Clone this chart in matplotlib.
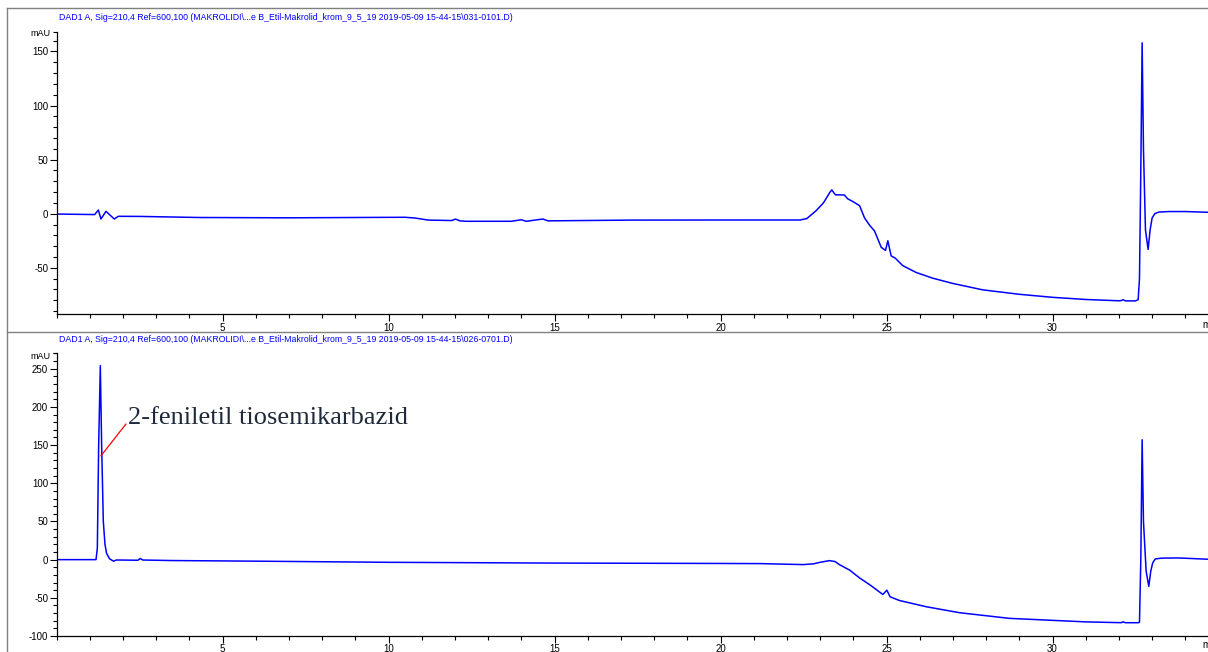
import matplotlib
matplotlib.use("Agg")
import matplotlib.pyplot as plt
from matplotlib.lines import Line2D
from matplotlib.ticker import MultipleLocator, FixedLocator

plt.rcParams['font.family'] = ['Liberation Sans', 'DejaVu Sans']
plt.rcParams['axes.unicode_minus'] = False

# run 1 (031-0101.D)
t1 = [0, 1.15, 1.26, 1.34, 1.49, 1.74, 1.86, 2.5, 4.3, 7.0, 9.7, 10.5, 10.8, 11.2,
      11.9, 12.02, 12.15, 12.34, 13.7, 14.0, 14.15, 14.65, 14.8, 15.2, 17.3, 20.9,
      22.4, 22.6, 22.88, 23.1, 23.3, 23.35, 23.46, 23.73, 23.83, 24.0, 24.19, 24.34,
      24.5, 24.64, 24.84, 24.97, 25.04, 25.14, 25.26, 25.49, 25.89, 26.39, 27.0,
      27.9, 29.0, 30.0, 31.0, 32.0, 32.08, 32.12, 32.2, 32.5, 32.58, 32.62, 32.66,
      32.70, 32.74, 32.8, 32.88, 32.94, 33.0, 33.08, 33.2, 33.5, 34.0, 34.7]
a1 = [-0.3, -0.8, 3.4, -4.9, 2.2, -4.9, -2.4, -2.5, -3.5, -3.8, -3.4, -3.3, -4.0, -5.9,
      -6.3, -5.0, -6.6, -7.0, -7.0, -5.6, -7.0, -4.9, -6.6, -6.5, -5.9, -5.8,
      -5.8, -4.5, 2.8, 10, 20, 22, 17.5, 17.3, 13.8, 11, 7.4, -4,
      -11, -16, -31, -34, -25, -39, -41, -48, -54.3, -59.6, -64.5,
      -70.4, -74.5, -77.3, -79.3, -80.5, -80.3, -79.5, -80.6, -80.6, -79.5, -60, 40,
      158, 60, -15, -33, -15, -4, 0, 1.5, 2, 2, 1.3]

# run 2 (026-0701.D)
t2 = [0, 1.19, 1.23, 1.27, 1.32, 1.36, 1.41, 1.46, 1.51, 1.6, 1.72, 1.8, 1.9, 2.45,
      2.52, 2.6, 3.5, 6.0, 10.0, 15.0, 20.0, 21.2, 22.0, 22.5, 22.8, 23.0, 23.28,
      23.45, 23.58, 23.9, 24.19, 24.5, 24.89, 25.01, 25.11, 25.39, 26.2, 27.2, 28.7,
      30.0, 31.0, 32.0, 32.08, 32.12, 32.2, 32.58, 32.62, 32.66, 32.70, 32.74, 32.82,
      32.90, 32.96, 33.02, 33.1, 33.3, 33.8, 34.7]
a2 = [0, 0, 15, 150, 254, 150, 50, 20, 8, 1, -2, -0.5, -0.5, -0.8,
      1.5, -0.5, -1.2, -2, -3.5, -4.5, -5.0, -5.2, -6.0, -6.5, -5.5, -3.5, -1.3,
      -2.5, -6.5, -14, -24, -33, -45.6, -40, -48.7, -53.5, -61.7, -69.5, -76.9,
      -79.5, -81.5, -82.5, -82.5, -81.5, -82.6, -82.6, -82, 0, 157, 50, -15,
      -35, -15, -4, 1, 2, 2.2, 0.5]

titles = ["DAD1 A, Sig=210,4 Ref=600,100 (MAKROLIDI\\...e B_Etil-Makrolid_krom_9_5_19 2019-05-09 15-44-15\\031-0101.D)",
          "DAD1 A, Sig=210,4 Ref=600,100 (MAKROLIDI\\...e B_Etil-Makrolid_krom_9_5_19 2019-05-09 15-44-15\\026-0701.D)"]
label_text = "2-feniletil tiosemikarbazid"
label_line_x = [1.34, 2.09]
label_line_y = [136, 177.5]
label_pos = (2.15, 185)

W, H = 1208, 652
fig = plt.figure(figsize=(W / 100, H / 100), dpi=100)


def px(x, y):
    return x / W, 1 - y / H


blue = '#0000ff'
gray = '#808080'

panels = [
    dict(t=t1, a=a1, top=32, bottom=314.3, ylim=(-93, 168), yt=range(-50, 151, 50),
         title_y=17, mau_y=34, min_y=325),
    dict(t=t2, a=a2, top=353, bottom=636, ylim=(-100, 270.6), yt=range(-100, 251, 50),
         title_y=340, mau_y=357, min_y=645),
]

x0 = 56.5
for i, p in enumerate(panels):
    l, b = px(x0, p['bottom'])
    ax = fig.add_axes([l, b, 1 - l, (p['bottom'] - p['top']) / H])
    ax.plot(p['t'], p['a'], color=blue, lw=1.1)
    ax.set_xlim(0, (W - x0) / 33.2)
    ax.set_ylim(*p['ylim'])
    ax.spines['top'].set_visible(False)
    ax.spines['right'].set_visible(False)
    ax.xaxis.set_major_locator(FixedLocator([5, 10, 15, 20, 25, 30]))
    ax.xaxis.set_minor_locator(MultipleLocator(1))
    ax.yaxis.set_major_locator(FixedLocator(list(p['yt'])))
    ymin = list(range(int(p['ylim'][0] // 10 * 10) + 10, int(p['ylim'][1]) + 1, 10))
    ax.yaxis.set_minor_locator(FixedLocator(ymin + [p['ylim'][1]]))
    ax.tick_params(which='major', length=5, width=0.8, labelsize=7, pad=1)
    ax.tick_params(which='minor', length=3, width=0.8)
    for s in ax.spines.values():
        s.set_linewidth(0.9)
    fig.text(*px(59, p['title_y']), titles[i], color=blue, fontsize=6.3, va='center')
    fig.text(*px(51, p['mau_y']), 'mAU', fontsize=6.5, ha='right', va='center')
    fig.text(*px(1202, p['min_y']), 'min', fontsize=7, va='center')
    if i == 1:
        ax.plot(label_line_x, label_line_y, color='red', lw=0.9)
        ax.text(*label_pos, label_text, ha='left', va='center', fontsize=19,
                color='#1e2a3a', family='Liberation Serif')

# panel frames
for seg in [((7, 8), (W, 8)), ((7, 8), (7, H)), ((7, 332), (W, 332))]:
    (xa, ya), (xb, yb) = seg
    fig.add_artist(Line2D([xa / W, xb / W], [1 - ya / H, 1 - yb / H],
                          color=gray, lw=1, transform=fig.transFigure))

fig.savefig('out.png', dpi=100)
